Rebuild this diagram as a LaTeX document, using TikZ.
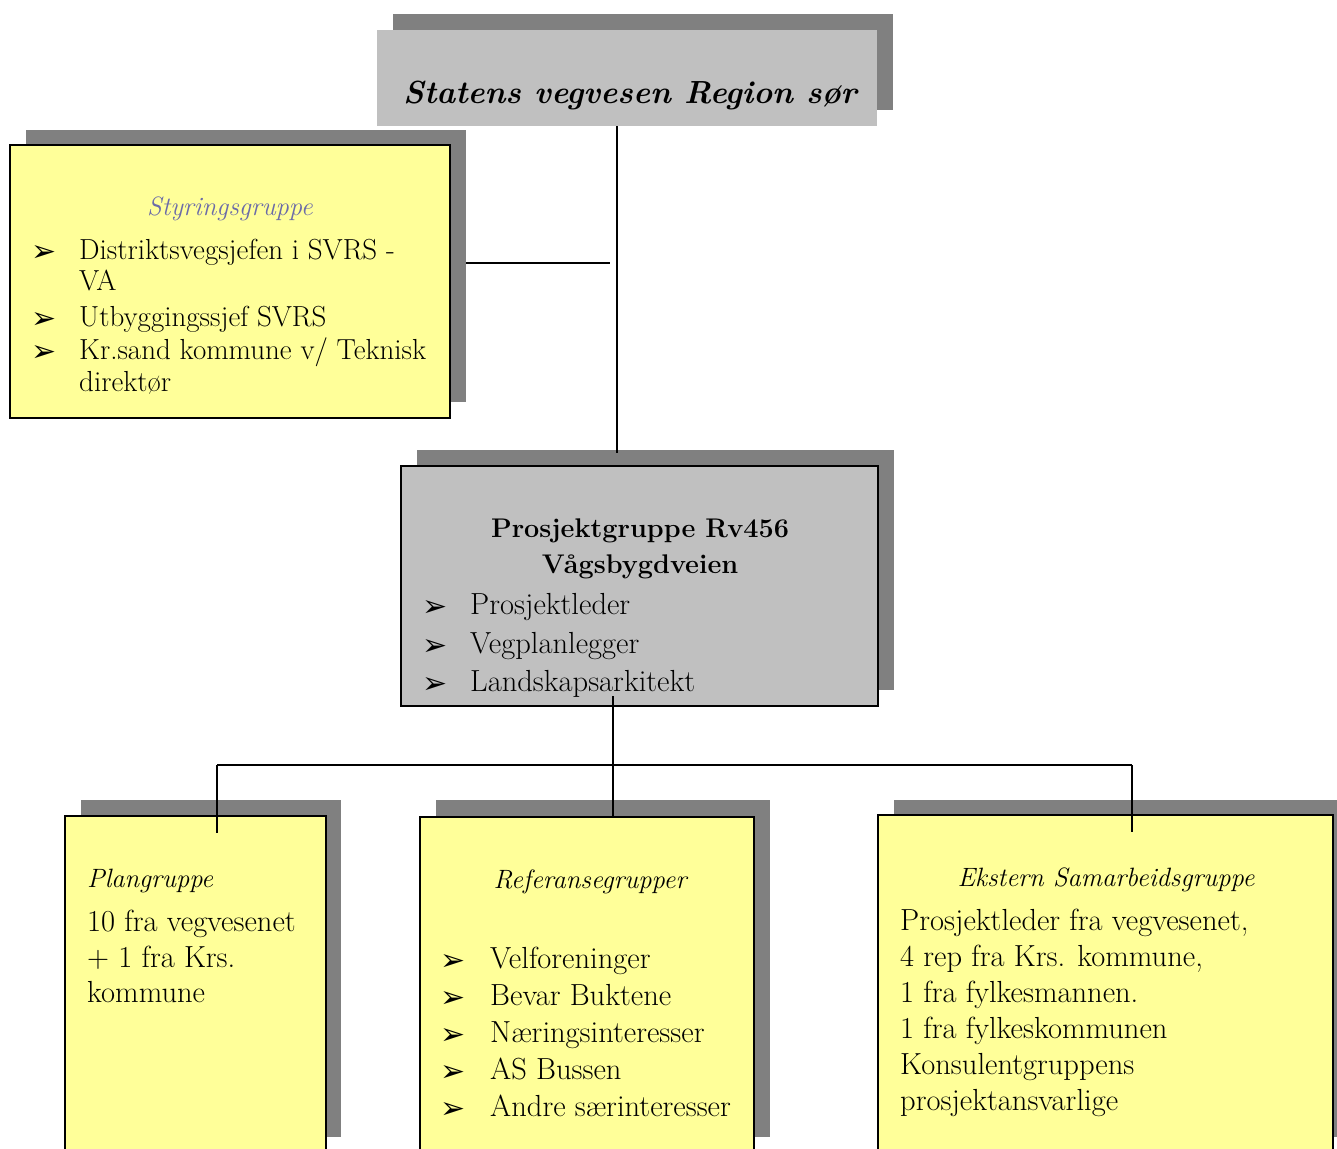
\documentclass[tikz,border=0pt]{standalone}
\usepackage{fontspec}
\usetikzlibrary{calc}
\newfontfamily\dingfont{DejaVu Sans}
\definecolor{boxyellow}{HTML}{FFFF99}
\definecolor{boxgray}{HTML}{C0C0C0}
\definecolor{shadowgray}{HTML}{808080}
\definecolor{titleblue}{HTML}{6B6BA8}
\tikzset{
  shadowbox/.style={fill=shadowgray, draw=none, anchor=north west, inner sep=0pt, outer sep=0pt},
  yellowbox/.style={fill=boxyellow, draw=black, line width=2pt, anchor=north west, inner sep=0pt, outer sep=0pt},
  graybox/.style={fill=boxgray, draw=black, line width=2pt, anchor=north west, inner sep=0pt, outer sep=0pt},
  plainbox/.style={fill=boxgray, draw=none, anchor=north west, inner sep=0pt, outer sep=0pt},
  txt/.style={anchor=base west, inner sep=0pt, font=\fontsize{30.5}{36}\selectfont},
  stxt/.style={anchor=base west, inner sep=0pt, font=\fontsize{29}{34}\selectfont},
  ctxt/.style={anchor=base, inner sep=0pt, font=\fontsize{27}{36}\selectfont},
  ttl/.style={anchor=base, inner sep=0pt, font=\fontsize{26.5}{30}\selectfont\itshape},
  bul/.style={anchor=base west, inner sep=0pt, font=\dingfont\fontsize{30}{32}\selectfont},
  conn/.style={draw=black, line width=1.6pt},
}
\begin{document}
\begin{tikzpicture}[x=1pt,y=-1pt]
\useasboundingbox (0,0) rectangle (1337,1148);
% top box
\node[shadowbox, minimum width=500, minimum height=96] (tops) at (393,14) {};
\node[plainbox, minimum width=500, minimum height=96] (top) at (377,30) {};
\node[anchor=base, inner sep=0pt, font=\fontsize{32}{36}\selectfont\bfseries\itshape] (toptxt) at (630,103) {Statens vegvesen Region sør};
% Styringsgruppe
\node[shadowbox, minimum width=440, minimum height=272] (stys) at (26,130) {};
\node[yellowbox, minimum width=440, minimum height=273] (sty) at (10,145) {};
\node[ttl, text=titleblue] (styt) at (230,215) {Styringsgruppe};
\node[bul] (sb1) at (31,261) {➢};
\node[stxt] (s1) at (79,259) {Distriktsvegsjefen i SVRS -};
\node[stxt] (s1b) at (79,290) {VA};
\node[bul] (sb2) at (31,328) {➢};
\node[stxt] (s2) at (79,326) {Utbyggingssjef SVRS};
\node[bul] (sb3) at (31,361) {➢};
\node[stxt] (s3) at (79,359) {Kr.sand kommune v/ Teknisk};
\node[stxt] (s3b) at (79,391) {direktør};
% Prosjektgruppe
\node[shadowbox, minimum width=477, minimum height=240] (pgs) at (417,450) {};
\node[graybox, minimum width=477, minimum height=240] (pg) at (401,466) {};
\node[ctxt, font=\fontsize{27}{36}\selectfont\bfseries] (pgt1) at (640,537) {Prosjektgruppe Rv456};
\node[ctxt, font=\fontsize{27}{36}\selectfont\bfseries] (pgt2) at (640,573) {Vågsbygdveien};
\node[bul] (pb1) at (422,616) {➢};
\node[txt] (p1) at (470,614) {Prosjektleder};
\node[bul] (pb2) at (422,655) {➢};
\node[txt] (p2) at (470,653) {Vegplanlegger};
\node[bul] (pb3) at (422,693) {➢};
\node[txt] (p3) at (470,691) {Landskapsarkitekt};
% Plangruppe
\node[shadowbox, minimum width=260, minimum height=337] (plans) at (81,800) {};
\node[yellowbox, minimum width=261, minimum height=400] (plan) at (65,816) {};
\node[anchor=base west, inner sep=0pt, font=\fontsize{26.5}{30}\selectfont\itshape] (plt) at (87,887) {Plangruppe};
\node[txt] (pl1) at (87,931) {10 fra vegvesenet};
\node[txt] (pl2) at (87,967) {+ 1 fra Krs.};
\node[txt] (pl3) at (87,1002) {kommune};
% Referansegrupper
\node[shadowbox, minimum width=334, minimum height=337] (refs) at (436,800) {};
\node[yellowbox, minimum width=334, minimum height=400] (ref) at (420,817) {};
\node[ttl] (rt) at (590,888) {Referansegrupper};
\node[bul] (rb1) at (440,970) {➢};
\node[txt] (r1) at (490,968) {Velforeninger};
\node[bul] (rb2) at (440,1007) {➢};
\node[txt] (r2) at (490,1005) {Bevar Buktene};
\node[bul] (rb3) at (440,1044) {➢};
\node[txt] (r3) at (490,1042) {Næringsinteresser};
\node[bul] (rb4) at (440,1081) {➢};
\node[txt] (r4) at (490,1079) {AS Bussen};
\node[bul] (rb5) at (440,1118) {➢};
\node[txt] (r5) at (490,1116) {Andre særinteresser};
% Ekstern
\node[shadowbox, minimum width=460, minimum height=337] (exts) at (894,800) {};
\node[yellowbox, minimum width=455, minimum height=400] (ext) at (878,815) {};
\node[ttl] (et) at (1106,886) {Ekstern Samarbeidsgruppe};
\node[txt] (e1) at (900,930) {Prosjektleder fra vegvesenet,};
\node[txt] (e2) at (900,966) {4 rep fra Krs. kommune,};
\node[txt] (e3) at (900,1002) {1 fra fylkesmannen.};
\node[txt] (e4) at (900,1038) {1 fra fylkeskommunen};
\node[txt] (e5) at (900,1074) {Konsulentgruppens};
\node[txt] (e6) at (900,1110) {prosjektansvarlige};
% connectors
\coordinate (spine) at (617,263);
\draw[conn] (spine |- top.south) -- ($(spine |- pgs.north)+(0,3)$);
\draw[conn] (stys.east |- spine) -- ($(spine)+(-7,0)$);
\coordinate (hub) at (613,765);
\coordinate (hl) at (217,765);
\coordinate (hr) at (1132,765);
\draw[conn] ($(hub |- pg.south)+(0,-10)$) -- (hub);
\draw[conn] (hl) -- (hr);
\draw[conn] (hl) -- ($(hl |- plan.north)+(0,17)$);
\draw[conn] (hub) -- (hub |- ref.north);
\draw[conn] (hr) -- ($(hr |- ext.north)+(0,17)$);
\end{tikzpicture}
\end{document}
